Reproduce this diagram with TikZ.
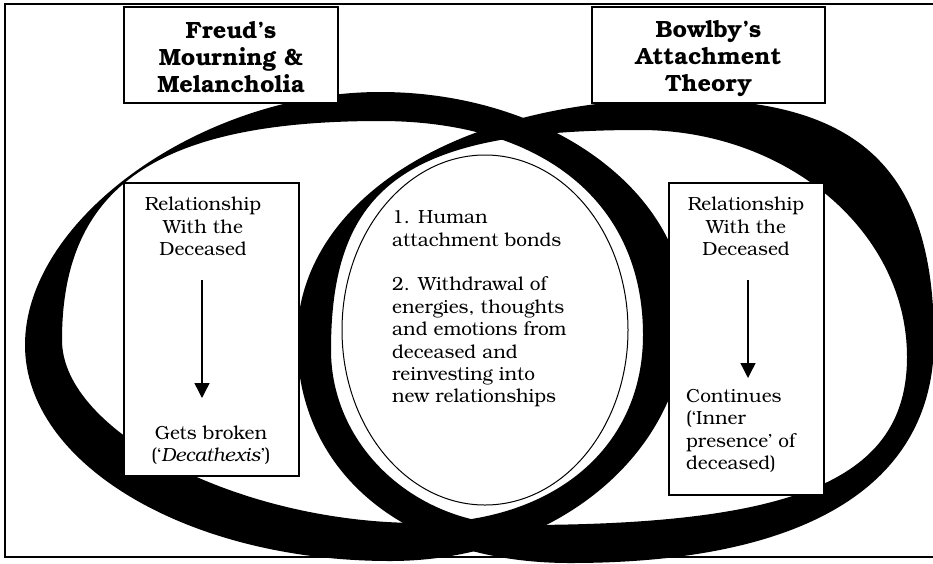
\documentclass[tikz,border=0pt]{standalone}
\usepackage{fontspec}
\setmainfont{texgyrebonum-regular.otf}[BoldFont=texgyrebonum-bold.otf, ItalicFont=texgyrebonum-italic.otf, BoldItalicFont=texgyrebonum-bolditalic.otf]
\usetikzlibrary{arrows.meta}
\begin{document}
\begin{tikzpicture}[x=1pt,y=-1pt,
  ring/.style={fill=black, even odd rule},
  boxn/.style={draw, line width=1.5pt, fill=white, inner sep=0pt},
  head/.style={font=\fontsize{23.5}{27}\selectfont\bfseries, align=center},
  body/.style={font=\fontsize{19}{22.4}\selectfont, inner sep=0pt},
  arr/.style={line width=1.4pt, -{Triangle[length=15pt,width=15pt]}}]
\useasboundingbox (0,0) rectangle (933,563);
\clip (0,0) rectangle (933,563);
% frame
\draw[line width=1.5pt] (5,4) rectangle (945,557);
% left ring
\fill[ring]
  (25,345) .. controls (25,218.5) and (202.5,92) .. (380,92)
  .. controls (548.9,92) and (686,191.9) .. (686,315)
  .. controls (686,452.8) and (555.8,561) .. (390,561)
  .. controls (188.5,561) and (25,464.2) .. (25,345) -- cycle
  (62,340) .. controls (62,186.7) and (157.4,121) .. (380,121)
  .. controls (543.1,121) and (643,202.3) .. (643,335)
  .. controls (643,447.8) and (553.8,523) .. (420,523)
  .. controls (240,523) and (62,432) .. (62,340) -- cycle;
% right ring
\fill[ring]
  (297,340) .. controls (297,200) and (458,99) .. (680,99)
  .. controls (860,99) and (934,170) .. (934,340)
  .. controls (934,485) and (806.6,563) .. (570,563)
  .. controls (406.2,563) and (297,473.8) .. (297,340) -- cycle
  (331,350) .. controls (331,185) and (408.25,130) .. (640,130)
  .. controls (787.4,130) and (907,231.7) .. (907,357)
  .. controls (907,478) and (798.6,525) .. (520,525)
  .. controls (415.7,525) and (331,446.6) .. (331,350) -- cycle;
% centre circle
\draw[line width=1pt, fill=white] (485,330) ellipse [x radius=143, y radius=175];
% boxes
\node[boxn, minimum width=214pt, minimum height=96pt] (freud) at (231,55) {};
\node[boxn, minimum width=233pt, minimum height=96pt] (bowlby) at (708.5,55) {};
\node[boxn, minimum width=175pt, minimum height=293pt] (lbox) at (211.5,329.5) {};
\node[boxn, minimum width=155pt, minimum height=312pt] (rbox) at (746.5,339) {};
% headings
\node[head] (freudt) at (231,57) {Freud’s\\Mourning \&\\Melancholia};
\node[head] (bowlbyt) at (708.5,59) {Bowlby’s\\Attachment\\Theory};
% texts
\node[body, align=center] (ltop) at (203,226.5) {Relationship\\With the\\Deceased};
\node[body, align=center] (lbot) at (211,445) {Gets broken\\(‘\textit{Decathexis}’)};
\node[body, align=center] (rtop) at (746,226.5) {Relationship\\With the\\Deceased};
\node[body, align=left, anchor=west] (rbot) at (686,431) {Continues\\(‘Inner\\presence’ of\\deceased)};
\node[body, align=left, anchor=west] (mid) at (392,309) {1. Human\\attachment bonds\\[22.4pt]2. Withdrawal of\\energies, thoughts\\and emotions from\\deceased and\\reinvesting into\\new relationships};
% arrows
\coordinate (la1) at (202,280);
\coordinate (la2) at (202,398);
\coordinate (ra1) at (748,280);
\coordinate (ra2) at (748,378);
\draw[arr] (la1) -- (la2);
\draw[arr] (ra1) -- (ra2);
\end{tikzpicture}
\end{document}
